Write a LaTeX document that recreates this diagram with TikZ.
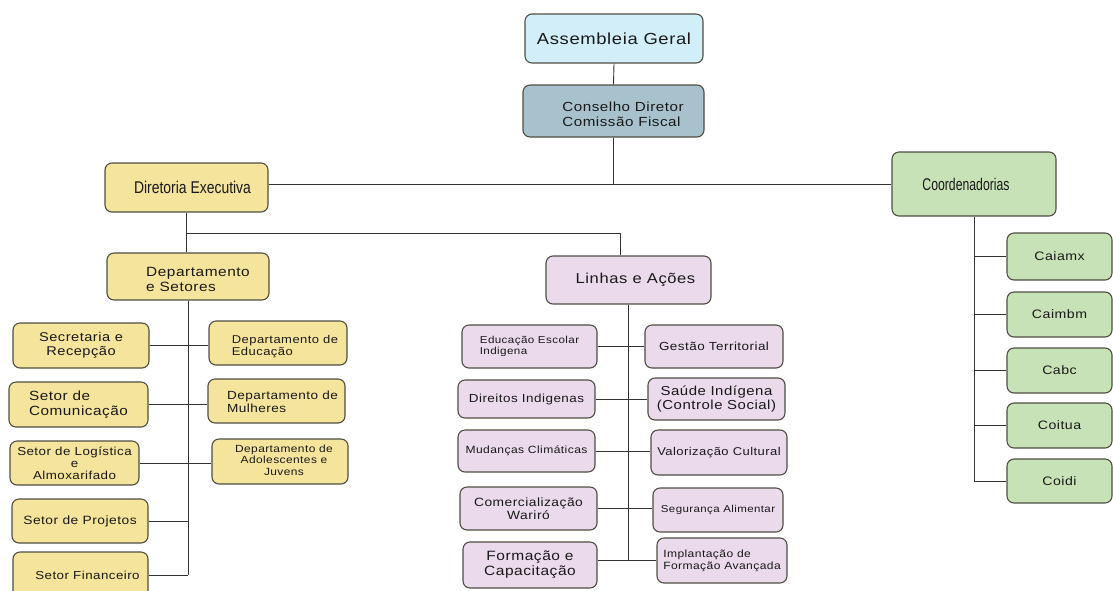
\documentclass[tikz,border=0pt]{standalone}
\usepackage{fontspec}
\setmainfont{Liberation Sans}[FakeStretch=1.15,LetterSpace=4]
\newfontfamily\narrowfont{Liberation Sans}[FakeStretch=0.82]
\newfontfamily\xnarrowfont{Liberation Sans}[FakeStretch=0.72]
\definecolor{fblue}{RGB}{210,238,248}
\definecolor{fsteel}{RGB}{168,194,205}
\definecolor{fyellow}{RGB}{245,228,156}
\definecolor{fpurple}{RGB}{234,218,236}
\definecolor{fgreen}{RGB}{200,226,183}
\definecolor{edge}{RGB}{78,78,66}
\newcommand{\fs}[1]{\fontsize{#1}{\fpeval{1.12*#1}}\selectfont}
% left-aligned block of lines, pushed right by half of #2 and lowered by #1
\newcommand{\shl}[3][0pt]{\hspace*{#2}\raisebox{-#1}[\height][\depth]{\begin{tabular}{@{}l@{}}#3\end{tabular}}}
\begin{document}
\begin{tikzpicture}[x=1pt,y=-1pt,
  box/.style={draw=edge,line width=1.1pt,rounded corners=7pt,inner sep=2pt,
    align=center,text=black!90},
  ybox/.style={box,fill=fyellow},
  pbox/.style={box,fill=fpurple},
  gbox/.style={box,fill=fgreen},
  sz/.style 2 args={minimum width=#1,minimum height=#2},
  link/.style={draw=black!80,line width=0.9pt}]
\useasboundingbox (0,0) rectangle (1113,590);

% top of the hierarchy
\node[box,fill=fblue,sz={178pt}{49pt},font=\fs{16}] (ag) at (614,38.5) {Assembleia Geral};
\node[box,fill=fsteel,sz={181pt}{52pt},font=\fs{13.2}] (cd) at (613.5,111) {\shl[5pt]{19pt}{Conselho Diretor\\Comissão Fiscal}};
\node[ybox,sz={163pt}{49pt},font=\narrowfont\fs{17}] (de) at (186.5,187.5) {\hspace*{12pt}Diretoria Executiva};
\node[gbox,sz={164pt}{64pt},font=\xnarrowfont\fs{17}] (co) at (974,184) {Coordenadorias\hspace*{16pt}};

% second level
\node[ybox,sz={162pt}{47pt},font=\fs{13.4}] (dp) at (188,276.5) {\shl[4pt]{20pt}{Departamento\\e Setores}};
\node[pbox,sz={165pt}{48pt},font=\fs{14.4}] (la) at (628.5,280) {\hspace*{14pt}Linhas e Ações};

% departments and sectors
\node[ybox,sz={136pt}{45pt},font=\fs{12.7}] (sr) at (81,345.5) {Secretaria e\\Recepção};
\node[ybox,sz={139pt}{45pt},font=\fs{13.3},align=left] (sc) at (78.5,404.5) {Setor de\\Comunicação};
\node[ybox,sz={129pt}{44pt},font=\fontsize{11.6}{12.2}\selectfont] (sl) at (74.5,463) {Setor de Logística\\e\\Almoxarifado};
\node[ybox,sz={136pt}{44pt},font=\fs{12}] (sp) at (80,521) {Setor de Projetos};
\node[ybox,sz={135pt}{46pt},font=\fs{11.6}] (sf) at (80.5,575) {\hspace*{14pt}Setor Financeiro};
\node[ybox,sz={138pt}{44pt},font=\fs{11.3}] (dedu) at (278,343) {\shl[4pt]{14pt}{Departamento de\\Educação}};
\node[ybox,sz={137pt}{44pt},font=\fs{11.8}] (dmul) at (276.5,401) {\shl[2pt]{12pt}{Departamento de\\Mulheres}};
\node[ybox,sz={136pt}{45pt},font=\fs{10.4}] (dado) at (280,461.5) {\hspace*{8pt}\begin{tabular}{@{}c@{}}Departamento de\\Adolescentes e\\Juvens\end{tabular}};

% lines of action
\node[pbox,sz={135pt}{43pt},font=\fs{10.1},align=left] (l1) at (529.5,346.5) {Educação Escolar\\Indigena};
\node[pbox,sz={137pt}{38pt},font=\fs{11.7}] (l2) at (526.5,399) {Direitos Indigenas};
\node[pbox,sz={137pt}{42pt},font=\fs{10.5}] (l3) at (526.5,451) {Mudanças Climáticas};
\node[pbox,sz={137pt}{43pt},font=\fs{12}] (l4) at (528.5,508.5) {Comercialização\\Wariró};
\node[pbox,sz={134pt}{46pt},font=\fs{13.5}] (l5) at (530,565) {Formação e\\Capacitação};
\node[pbox,sz={138pt}{43pt},font=\fs{11.7}] (r1) at (714,346.5) {Gestão Territorial};
\node[pbox,sz={137pt}{42pt},font=\fs{13}] (r2) at (716.5,399) {Saúde Indígena\\(Controle Social)};
\node[pbox,sz={136pt}{45pt},font=\fs{11.3}] (r3) at (719,452.5) {Valorização Cultural};
\node[pbox,sz={130pt}{44pt},font=\fs{10}] (r4) at (718,510) {Segurança Alimentar};
\node[pbox,sz={130pt}{45pt},font=\fs{10.5},align=left] (r5) at (722,560.5) {Implantação de\\Formação Avançada};

% coordinations
\node[gbox,sz={105pt}{47pt},font=\fs{12.3}] (c1) at (1059.5,256.5) {Caiamx};
\node[gbox,sz={105pt}{45pt},font=\fs{12.3}] (c2) at (1059.5,314.5) {Caimbm};
\node[gbox,sz={105pt}{45pt},font=\fs{12.3}] (c3) at (1059.5,370.5) {Cabc};
\node[gbox,sz={105pt}{45pt},font=\fs{12.3}] (c4) at (1059.5,425.5) {Coitua};
\node[gbox,sz={105pt}{44pt},font=\fs{12.3}] (c5) at (1059.5,481) {Coidi};

% junction where the executive board splits
\coordinate (j) at (186.5,233);

% connectors
\draw[link] (ag.south) -- (cd.north);
\draw[link] (cd.south) -- (cd.south |- co.west);
\draw[link] (de.east |- co.west) -- (co.west);
\draw[link] (de.south) -- (de.south |- dp.north);
\draw[link] (j) -| ([xshift=-8pt]la.north);

\draw[link] (dp.south) -- (dp.south |- sf.east);
\draw[link] (sr.east) -- (sr.east -| dedu.west);
\draw[link] (sc.east) -- (sc.east -| dmul.west);
\draw[link] (sl.east) -- (sl.east -| dado.west);
\draw[link] (sp.east) -- (sp.east -| dp.south);
\draw[link] (sf.east) -- (sf.east -| dp.south);

\draw[link] (la.south) -- (la.south |- r5.west);
\draw[link] (l1.east) -- (l1.east -| r1.west);
\draw[link] (l2.east) -- (l2.east -| r2.west);
\draw[link] (l3.east) -- (l3.east -| r3.west);
\draw[link] (l4.east) -- (l4.east -| r4.west);
\draw[link] (l5.east |- r5.west) -- (r5.west);

\draw[link] (co.south) -- (co.south |- c5.west) -- (c5.west);
\foreach \c in {c1,c2,c3,c4}
  \draw[link] (co.south |- \c.west) -- (\c.west);
\end{tikzpicture}
\end{document}
